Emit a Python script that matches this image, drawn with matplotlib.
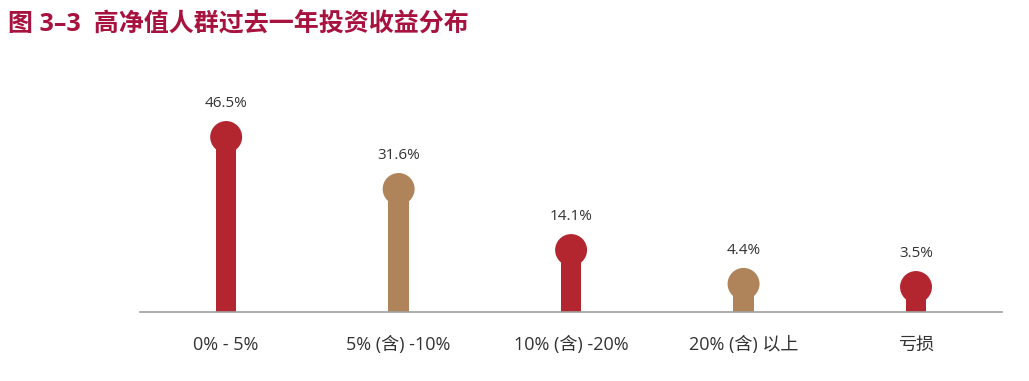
import matplotlib
matplotlib.use("Agg")
import matplotlib.pyplot as plt

plt.rcParams['font.family'] = ['Open Sans', 'Noto Sans CJK SC', 'DejaVu Sans']

# Datos
categorias = ["0% - 5%", "5% (含) -10%", "10% (含) -20%", "20% (含) 以上", "亏损"]
valores = [46.5, 31.6, 14.1, 4.4, 3.5]
etiquetas = ["46.5%", "31.6%", "14.1%", "4.4%", "3.5%"]

rojo = "#B3262F"
marron = "#B0845A"
colores = [rojo, marron, rojo, marron, rojo]

base = -3.67  # el eje no arranca en cero

fig = plt.figure(figsize=(10.29, 3.81), dpi=100)
ax = fig.add_axes([0.136, 0.181, 0.838, 0.583])

x = range(len(categorias))
ax.bar(x, [v - base for v in valores], bottom=base, width=0.118, color=colores, zorder=2)
ax.scatter(x, valores, s=23**2, color=colores, zorder=3, linewidths=0)

for xi, v, t in zip(x, valores, etiquetas):
    ax.annotate(t, (xi, v), xytext=(0, 24), textcoords="offset points",
                ha="center", va="center", fontsize=11, color="#333333")

ax.set_xlim(-0.5, 4.5)
ax.set_ylim(base, 60)
ax.set_xticks(list(x))
ax.set_xticklabels(categorias, fontsize=13, color="#333333")
ax.tick_params(axis="x", length=0, pad=17)
ax.set_yticks([])
for s in ["top", "left", "right"]:
    ax.spines[s].set_visible(False)
ax.spines["bottom"].set_color("#a0a0a0")
ax.spines["bottom"].set_linewidth(1.2)

fig.text(0.008, 0.934, "图 3–3  高净值人群过去一年投资收益分布", fontsize=18,
         fontweight="bold", color="#A8123E", ha="left", va="center")

fig.savefig("out.png", dpi=100)
